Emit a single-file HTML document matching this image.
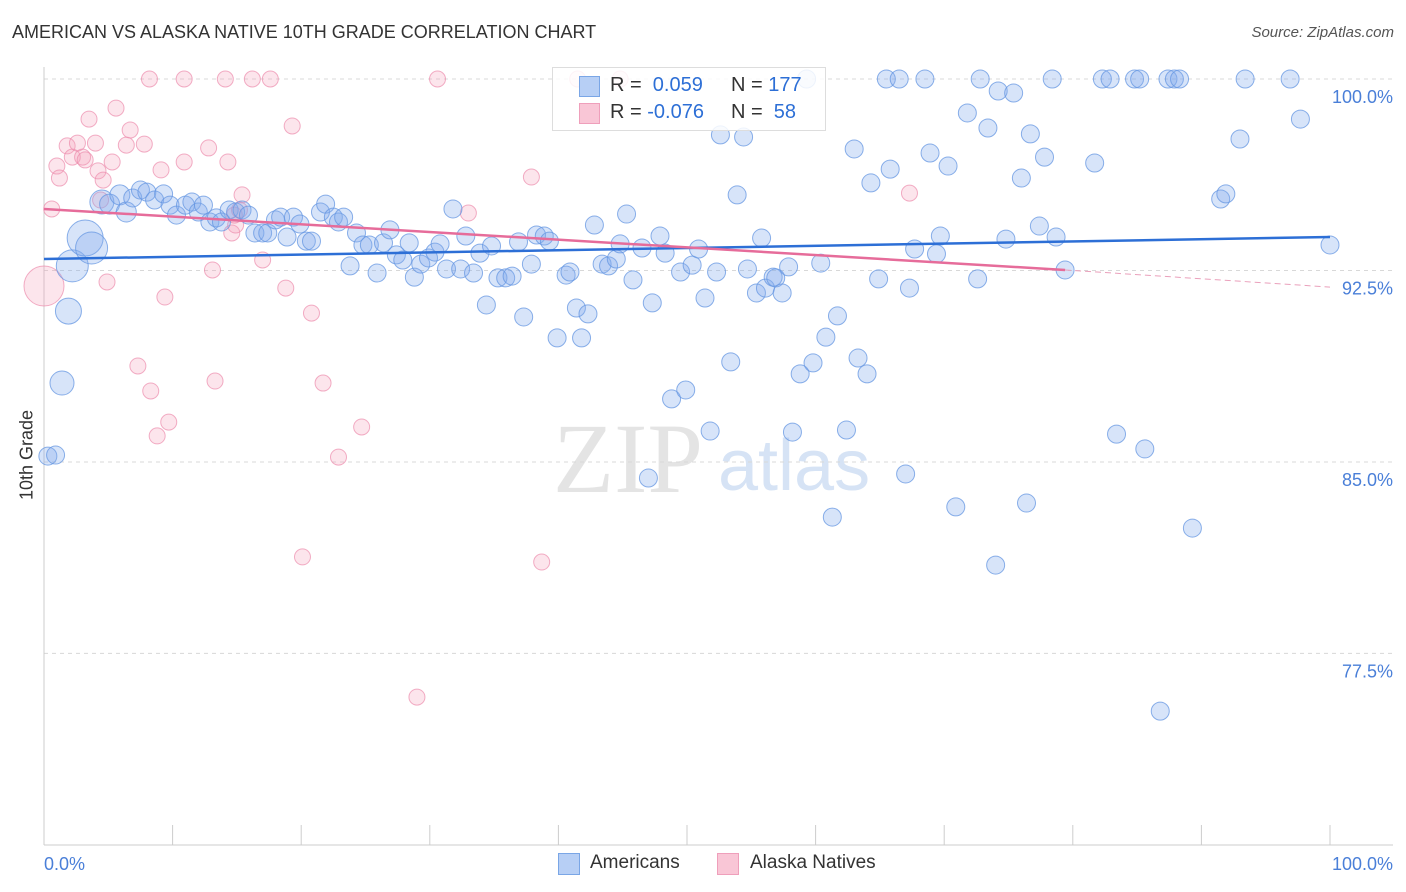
<!DOCTYPE html>
<html><head><meta charset="utf-8">
<style>
body{margin:0;background:#fff;font-family:"Liberation Sans",sans-serif;}
#wrap{position:relative;width:1406px;height:892px;overflow:hidden;}
.t{position:absolute;white-space:nowrap;}
</style></head>
<body>
<div id="wrap">
<div class="t" style="left:12px;top:22px;font-size:18px;color:#333;">AMERICAN VS ALASKA NATIVE 10TH GRADE CORRELATION CHART</div>
<div class="t" style="right:12px;top:24px;font-size:15px;color:#555;font-style:italic;">Source: ZipAtlas.com</div>
<svg id="plot" width="1406" height="892" style="position:absolute;left:0;top:0;"></svg>
<div class="t" style="left:27px;top:455px;font-size:18px;color:#333;transform:translate(-50%,-50%) rotate(-90deg);">10th Grade</div>
<div style="position:absolute;left:552px;top:67px;width:272px;height:62px;border:1px solid #ddd;background:rgba(255,255,255,0.85);"></div>
<div style="position:absolute;left:579px;top:76px;width:19px;height:19px;background:#b7cff5;border:1px solid #7aa6e6;"></div>
<div style="position:absolute;left:579px;top:103px;width:19px;height:19px;background:#f9c6d6;border:1px solid #ef9fbb;"></div>
<div class="t" style="left:610px;top:74px;font-size:20px;color:#333;">R = &nbsp;<span style="color:#2d6fd6">0.059</span></div>
<div class="t" style="left:731px;top:74px;font-size:20px;color:#333;">N = <span style="color:#2d6fd6">177</span></div>
<div class="t" style="left:610px;top:101px;font-size:20px;color:#333;">R = <span style="color:#2d6fd6">-0.076</span></div>
<div class="t" style="left:731px;top:101px;font-size:20px;color:#333;">N = &nbsp;<span style="color:#2d6fd6">58</span></div>
<div style="position:absolute;left:558px;top:853px;width:20px;height:20px;background:#b7cff5;border:1px solid #7aa6e6;"></div>
<div class="t" style="left:590px;top:852px;font-size:19px;color:#333;">Americans</div>
<div style="position:absolute;left:717px;top:853px;width:20px;height:20px;background:#f9c6d6;border:1px solid #ef9fbb;"></div>
<div class="t" style="left:750px;top:852px;font-size:19px;color:#333;">Alaska Natives</div>
</div>
<script>
const blueX=[0.3,0.9,1.4,1.9,2.2,3.2,3.7,4.5,5.1,5.9,6.4,6.9,7.5,8.0,8.6,9.3,9.8,10.3,11.0,11.5,12.0,12.4,12.9,13.4,13.8,14.4,14.9,15.4,15.9,16.4,17.0,17.4,18.0,18.4,18.9,19.4,19.9,20.4,20.8,21.5,21.9,22.5,22.9,23.3,23.8,24.3,24.8,25.3,25.9,26.4,26.9,27.4,27.9,28.4,28.8,29.3,29.9,30.4,30.8,31.3,31.8,32.4,32.8,33.4,33.9,34.4,34.8,35.3,35.9,36.4,36.9,37.3,37.9,38.3,38.9,39.3,39.9,40.6,40.9,41.4,41.8,42.3,42.8,43.4,43.9,44.5,44.8,45.3,45.8,46.5,47.0,47.3,47.9,48.3,48.8,49.5,49.9,50.4,50.9,51.4,51.8,52.3,52.6,53.4,53.9,54.4,54.7,55.4,55.8,56.1,56.7,56.9,57.4,57.9,58.2,58.8,59.3,59.8,60.4,60.8,61.3,61.7,62.4,63.0,63.3,64.0,64.3,64.9,65.5,65.8,66.5,67.0,67.3,67.7,68.5,68.9,69.4,69.7,70.3,70.9,71.8,72.6,72.8,73.4,74.0,74.2,74.8,75.4,76.0,76.4,76.7,77.4,77.8,78.4,78.7,79.4,81.7,82.3,82.9,83.4,84.8,85.2,85.6,86.8,87.4,87.9,88.3,89.3,91.5,91.9,93.0,93.4,96.9,97.7,100];
const blueY=[85.23,85.27,88.09,90.91,92.68,93.77,93.38,95.18,95.10,95.46,94.79,95.34,95.65,95.57,95.26,95.50,95.06,94.67,95.06,95.18,94.79,95.06,94.40,94.56,94.40,94.87,94.79,94.87,94.67,93.97,93.97,93.97,94.48,94.59,93.81,94.59,94.32,93.65,93.65,94.79,95.10,94.59,94.40,94.59,92.68,93.97,93.50,93.50,92.40,93.58,94.09,93.11,92.91,93.58,92.24,92.75,92.99,93.22,93.54,92.56,94.91,92.56,93.85,92.40,93.18,91.15,93.46,92.21,92.21,92.28,93.62,90.68,92.75,93.89,93.85,93.65,89.86,92.32,92.44,91.03,89.86,90.80,94.28,92.75,92.68,92.95,93.54,94.71,92.13,93.38,84.37,91.23,93.85,93.18,87.47,92.44,87.82,92.71,93.34,91.42,86.21,92.44,97.81,88.92,95.46,97.73,92.56,91.62,93.77,91.81,92.24,92.21,91.62,92.64,86.17,88.45,100,88.88,92.79,89.89,82.84,90.72,86.25,97.26,89.07,88.45,95.93,92.17,100,96.47,100,84.53,91.81,93.34,100,97.10,93.15,93.85,96.59,83.24,98.67,92.17,100,98.08,80.96,99.53,93.73,99.45,96.12,83.39,97.85,94.24,96.94,100,93.81,92.52,96.71,100,100,86.09,100,100,85.51,75.24,100,100,100,82.41,95.30,95.50,97.65,100,100,98.43,93.50];
const blueR=[9,9,12,13,16,18,16,12,10,10,10,9,9,9,9,9,9,9];
const pinkX=[0,0.6,1.0,1.2,1.8,2.2,2.6,3.0,3.2,3.5,4.0,4.2,4.6,4.9,5.3,5.6,6.4,6.7,7.3,7.8,8.2,8.3,8.8,9.1,9.4,9.7,10.9,10.9,12.8,13.1,13.3,14.1,14.3,14.6,14.9,15.4,16.2,17.0,17.6,18.8,19.3,20.1,20.8,21.7,22.9,24.7,29.0,30.6,33.0,37.9,38.7,41.5,44.8,67.3,14.8,15.2,4.4];
const pinkY=[91.89,94.91,96.59,96.12,97.38,96.94,97.49,96.94,96.83,98.43,97.49,96.40,96.04,92.05,96.75,98.86,97.41,98.0,88.76,97.45,100,87.78,86.02,96.44,91.46,86.56,96.75,100,97.30,92.52,88.17,100,96.75,93.97,94.28,95.46,100,92.91,100,91.81,98.16,81.28,90.83,88.09,85.19,86.37,75.79,100,94.75,96.16,81.08,100,100,95.53,94.67,94.87,95.26];
const pinkR=[20];
const yTicks=[100,92.5,85,77.5];
const yTickLabels=["100.0%","92.5%","85.0%","77.5%"];
const xTickVals=[0,10,20,30,40,50,60,70,80,90,100];
const blueTrend=[[0,92.95],[100,93.81]];
const pinkTrend=[[0,94.91],[79.4,92.52]];
const pinkTrendExt=[[79.4,92.52],[100,91.85]];

const X0=44,X1=1330,Y0=79,PX=25.53;
const sx=v=>X0+(X1-X0)*v/100;
const sy=v=>Y0+(100-v)*PX;
const svg=document.getElementById('plot');
const NS='http://www.w3.org/2000/svg';
function mk(tag,attrs,parent){const e=document.createElementNS(NS,tag);for(const k in attrs)e.setAttribute(k,attrs[k]);(parent||svg).appendChild(e);return e;}

// watermark
let w1=mk('text',{x:553,y:492,'font-size':100,'font-family':'Liberation Serif, serif',fill:'#e4e4e4'});w1.textContent='ZIP';


let w2=mk('text',{x:718,y:490,'font-size':72,'font-family':'Liberation Sans, sans-serif',fill:'#d6e3f5'});w2.textContent='atlas';



// gridlines
yTicks.forEach((v,i)=>{
  let g=mk('line',{x1:X0,x2:1393,y1:sy(v),y2:sy(v),stroke:'#d8d8d8','stroke-dasharray':'4,4'});
  
  
  let t=mk('text',{x:1393,y:sy(v)+24,'text-anchor':'end','font-size':18,fill:'#4a7fd8','font-family':'Liberation Sans, sans-serif'});
  t.textContent=yTickLabels[i];
  
  
});
let ya=mk('line',{x1:X0,x2:X0,y1:67,y2:845,stroke:'#ccc'});


let xa=mk('line',{x1:X0,x2:1393,y1:845,y2:845,stroke:'#ccc'});


xTickVals.forEach(v=>{
  let t=mk('line',{x1:sx(v),x2:sx(v),y1:825,y2:845,stroke:'#ccc'});
  
  
});
let xl0=mk('text',{x:44,y:870,'font-size':18,fill:'#4a7fd8','font-family':'Liberation Sans, sans-serif'});xl0.textContent='0.0%';


let xl1=mk('text',{x:1393,y:870,'text-anchor':'end','font-size':18,fill:'#4a7fd8','font-family':'Liberation Sans, sans-serif'});xl1.textContent='100.0%';



// points
pinkX.forEach((v,i)=>{
  let c=mk('circle',{cx:sx(v),cy:sy(pinkY[i]),r:pinkR[i]||8,fill:'rgba(244,160,188,0.28)',stroke:'rgba(236,140,172,0.7)','stroke-width':1});
  
  
});
blueX.forEach((v,i)=>{
  let c=mk('circle',{cx:sx(v),cy:sy(blueY[i]),r:blueR[i]||9,fill:'rgba(130,170,235,0.32)',stroke:'rgba(100,150,225,0.75)','stroke-width':1});
  
  
});
// trends
let bl=mk('line',{x1:sx(blueTrend[0][0]),y1:sy(blueTrend[0][1]),x2:sx(blueTrend[1][0]),y2:sy(blueTrend[1][1]),stroke:'#2d6fd6','stroke-width':2.5});


let pl=mk('line',{x1:sx(pinkTrend[0][0]),y1:sy(pinkTrend[0][1]),x2:sx(pinkTrend[1][0]),y2:sy(pinkTrend[1][1]),stroke:'#e66c9a','stroke-width':2.5});


let pe=mk('line',{x1:sx(pinkTrendExt[0][0]),y1:sy(pinkTrendExt[0][1]),x2:sx(pinkTrendExt[1][0]),y2:sy(pinkTrendExt[1][1]),stroke:'#eaa0bb','stroke-width':1,'stroke-dasharray':'6,4'});


</script>
</body></html>
